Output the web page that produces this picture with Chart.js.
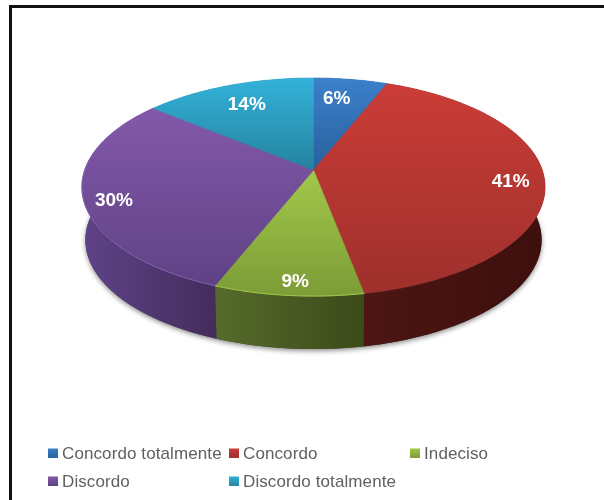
<!DOCTYPE html>
<html>
<head>
<meta charset="utf-8">
<title>Grau de concordância</title>
<script src="https://cdn.jsdelivr.net/npm/chart.js@4"></script>
<style>
  html, body { margin: 0; padding: 0; background: #fff; }
  #wrap { position: relative; width: 604px; height: 500px; overflow: hidden; }
  #frame { position: absolute; left: 9px; top: 5px; right: -4px; bottom: -4px;
           border-left: 3px solid #111; border-top: 3px solid #111; }
  canvas { position: absolute; left: 0; top: 0; }
</style>
</head>
<body>
<div id="wrap">
  <div id="frame"></div>
  <canvas id="pie" width="604" height="500"></canvas>
</div>
<script>
// Survey answers, in percent
const categories = ['Concordo totalmente', 'Concordo', 'Indeciso', 'Discordo', 'Discordo totalmente'];
const values = [6, 41, 9, 30, 14];

// Colours per slice
const topLight = ['#3c80cb', '#cb3c37', '#a2c84a', '#8359a9', '#33b2da'];
const topDark  = ['#28609c', '#9e302c', '#7c9c37', '#5f4285', '#25839f'];
const wallLight = ['#234f80', '#4c1613', '#566b2b', '#5f4388', '#1f6d85'];
const wallDark  = ['#1c3f66', '#3d0f0d', '#3b4a19', '#442c5c', '#1a5a6e'];
const rimGlow = [null, null, '#a2c84a', '#8a60b2', null];

// Percent label placement: radial fraction and small pixel nudge per slice
const labelRadial = [0.79, 0.855, 0.895, 0.87, 0.771];
const labelNudge = [[-7, 2], [0, 3], [4, 2], [0, 7], [1, 2]];

// Legend grid
const legendColumns = [48, 229, 410];
const legendRows = [453, 481];

// Tilted-disc projection
const TILT = 0.156;      // perspective strength
const ASPECT = 2.15;     // horizontal stretch against the library radius
const DEPTH = 53;        // wall height in px
const FLOOR_SCALE = 0.985;

function project(el, angle, f, dropped) {
  const u = Math.cos(angle) * f, v = Math.sin(angle) * f;
  const w = 1 - TILT * v;
  const r = el.outerRadius;
  const sx = dropped ? FLOOR_SCALE : 1;
  return {
    x: el.x + r * ASPECT * u / w * sx,
    y: el.y + r * v / w + (dropped ? DEPTH : 0)
  };
}

function arcSamples(start, end) {
  const n = Math.max(2, Math.ceil((end - start) / (Math.PI / 180)));
  const out = [];
  for (let i = 0; i <= n; i++) out.push(start + (end - start) * i / n);
  return out;
}

function tracePath(ctx, pts, closed = true) {
  ctx.beginPath();
  pts.forEach((p, i) => i ? ctx.lineTo(p.x, p.y) : ctx.moveTo(p.x, p.y));
  if (closed) ctx.closePath();
}

const tiltedPie = {
  id: 'tiltedPie',
  // The arcs keep their angles and radius from the pie controller;
  // they are painted here as a tilted disc with a side wall.
  beforeDatasetDraw(chart) {
    const ctx = chart.ctx;
    const arcs = chart.getDatasetMeta(0).data;

    // soft shadow along the disc's floor edge
    ctx.save();
    ctx.shadowColor = 'rgba(0,0,0,0.45)';
    ctx.shadowBlur = 5;
    ctx.shadowOffsetX = 0;
    ctx.shadowOffsetY = 2;
    ctx.fillStyle = '#444';
    tracePath(ctx, arcSamples(0, Math.PI * 2).map(a => project(arcs[0], a, 1, true)));
    ctx.fill();
    ctx.restore();

    // side walls
    arcs.forEach((el, i) => {
      const angles = arcSamples(el.startAngle, el.endAngle);
      const top = angles.map(a => project(el, a, 1, false));
      const floor = angles.map(a => project(el, a, 1, true));
      const front = top.filter((p, k) => Math.sin(angles[k]) >= TILT);
      const xs = (front.length ? front : top).map(p => p.x);
      const g = ctx.createLinearGradient(Math.min(...xs), 0, Math.max(...xs) + 1, 0);
      g.addColorStop(0, wallLight[i]);
      g.addColorStop(1, wallDark[i]);
      ctx.fillStyle = g;
      tracePath(ctx, top.concat(floor.slice().reverse()));
      ctx.fill();
    });

    // top faces
    arcs.forEach((el, i) => {
      const rim = arcSamples(el.startAngle, el.endAngle).map(a => project(el, a, 1, false));
      const pts = [{ x: el.x, y: el.y }].concat(rim);
      const ys = pts.map(p => p.y);
      const g = ctx.createLinearGradient(0, Math.min(...ys), 0, Math.max(...ys));
      g.addColorStop(0, topLight[i]);
      g.addColorStop(1, topDark[i]);
      ctx.fillStyle = g;
      tracePath(ctx, pts);
      ctx.fill();
      ctx.strokeStyle = g;
      ctx.lineWidth = 0.6;
      ctx.stroke();
      if (rimGlow[i]) {
        ctx.strokeStyle = rimGlow[i];
        ctx.lineWidth = 1;
        tracePath(ctx, rim, false);
        ctx.stroke();
      }
    });
    return false;
  },
  afterDraw(chart) {
    const ctx = chart.ctx;
    const arcs = chart.getDatasetMeta(0).data;

    // percent labels
    ctx.save();
    ctx.font = 'bold 19px "Liberation Sans", Arial, sans-serif';
    ctx.fillStyle = '#fff';
    ctx.textAlign = 'center';
    ctx.textBaseline = 'middle';
    arcs.forEach((el, i) => {
      const mid = (el.startAngle + el.endAngle) / 2;
      const p = project(el, mid, labelRadial[i], false);
      ctx.fillText(values[i] + '%', p.x + labelNudge[i][0], p.y + labelNudge[i][1]);
    });
    ctx.restore();

    // legend: three columns, filled row by row
    ctx.save();
    ctx.font = '17px "Liberation Sans", Arial, sans-serif';
    ctx.letterSpacing = '0.1px';
    ctx.textBaseline = 'middle';
    ctx.textAlign = 'left';
    categories.forEach((name, i) => {
      const x = legendColumns[i % 3], y = legendRows[Math.floor(i / 3)];
      const g = ctx.createLinearGradient(0, y - 5, 0, y + 5);
      g.addColorStop(0, topLight[i]);
      g.addColorStop(1, topDark[i]);
      ctx.fillStyle = g;
      ctx.fillRect(x, y - 4.5, 10, 9.5);
      ctx.fillStyle = '#606060';
      ctx.fillText(name, x + 14, y + 1);
    });
    ctx.restore();
  }
};

new Chart(document.getElementById('pie'), {
  type: 'pie',
  data: {
    labels: categories,
    datasets: [{ data: values, backgroundColor: topLight, borderWidth: 0 }]
  },
  options: {
    responsive: false,
    animation: false,
    layout: { padding: { left: 100, right: 77, top: 63.6, bottom: 223.6 } },
    plugins: { legend: { display: false }, tooltip: { enabled: false } }
  },
  plugins: [tiltedPie]
});
</script>
</body>
</html>
